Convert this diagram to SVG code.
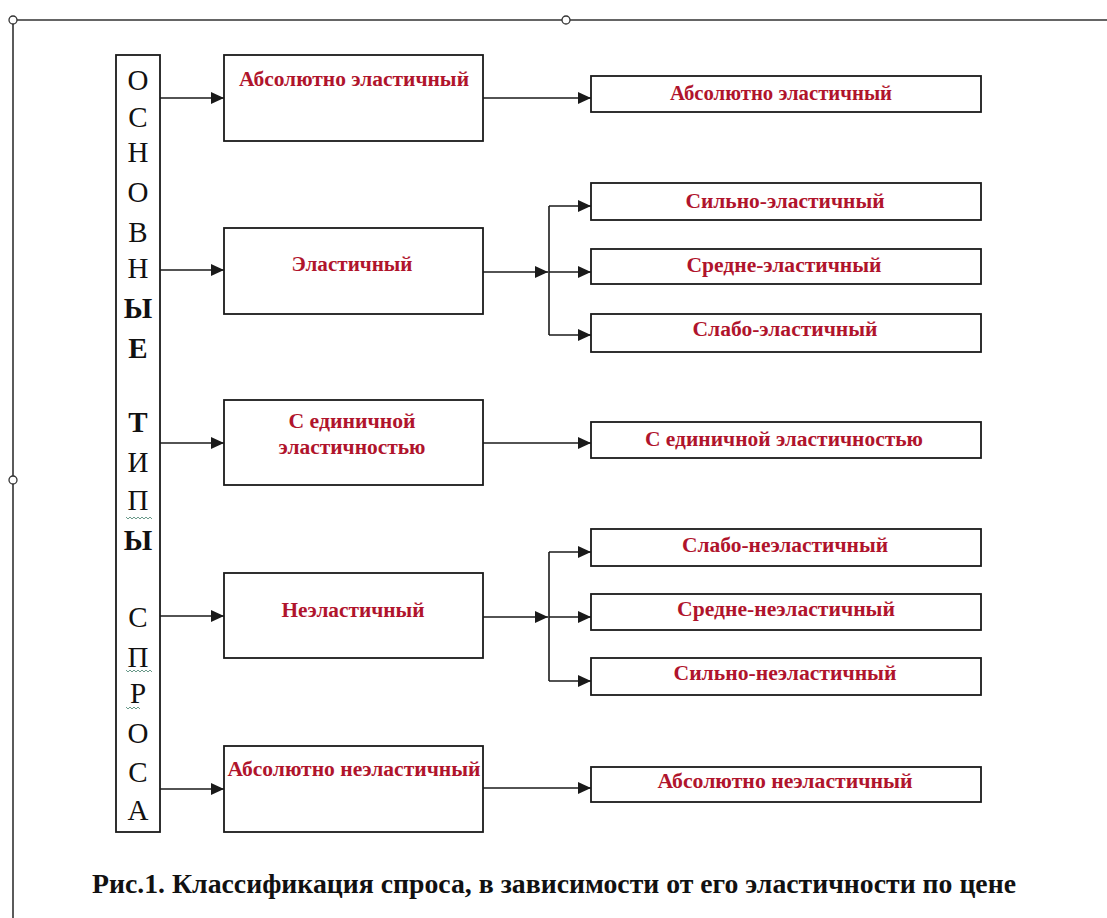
<svg xmlns="http://www.w3.org/2000/svg" width="1107" height="918" viewBox="0 0 1107 918">
<defs>
<style>
.box{fill:#fff;stroke:#1a1a1a;stroke-width:1.8}
.lbl{font-family:"Liberation Serif","Times New Roman",serif;font-weight:bold;font-size:20px;fill:#b0142c;text-anchor:middle}
.let{font-family:"Liberation Serif","Times New Roman",serif;font-size:29px;fill:#111;text-anchor:middle}
.b{font-weight:bold}
.con{fill:none;stroke:#1a1a1a;stroke-width:1.6}
.frame{fill:none;stroke:#333;stroke-width:1.6}
.handle{fill:#fff;stroke:#333;stroke-width:1.3}
.sq{fill:none;stroke:#6a9a8a;stroke-width:1}
.cap{font-family:"Liberation Serif","Times New Roman",serif;font-weight:bold;font-size:27px;fill:#111}
</style>
<marker id="ah" markerUnits="userSpaceOnUse" markerWidth="14" markerHeight="12" refX="13" refY="6" orient="auto">
<path d="M0,0 L13,6 L0,12 Z" fill="#1a1a1a"/>
</marker>
</defs>
<rect width="1107" height="918" fill="#fff"/>
<g id="frame">
<path class="frame" d="M13,20 H1107 M13,20 V918"/>
<circle class="handle" cx="13" cy="20" r="4"/>
<circle class="handle" cx="566" cy="20" r="4"/>
<circle class="handle" cx="13" cy="480" r="4"/>
</g>
<g id="connectors">
<path class="con" marker-end="url(#ah)" d="M160,98 H224"/>
<path class="con" marker-end="url(#ah)" d="M160,270 H224"/>
<path class="con" marker-end="url(#ah)" d="M160,443 H224"/>
<path class="con" marker-end="url(#ah)" d="M160,616 H224"/>
<path class="con" marker-end="url(#ah)" d="M160,789 H224"/>
<path class="con" marker-end="url(#ah)" d="M483,98 H591"/>
<path class="con" marker-end="url(#ah)" d="M483,443 H591"/>
<path class="con" marker-end="url(#ah)" d="M483,788 H591"/>
<path class="con" marker-end="url(#ah)" d="M483,272 H548"/>
<path class="con" d="M549,206 V335"/>
<path class="con" marker-end="url(#ah)" d="M549,206 H591"/>
<path class="con" marker-end="url(#ah)" d="M549,272 H591"/>
<path class="con" marker-end="url(#ah)" d="M549,335 H591"/>
<path class="con" marker-end="url(#ah)" d="M483,617 H548"/>
<path class="con" d="M549,552 V681"/>
<path class="con" marker-end="url(#ah)" d="M549,552 H591"/>
<path class="con" marker-end="url(#ah)" d="M549,617 H591"/>
<path class="con" marker-end="url(#ah)" d="M549,681 H591"/>
</g>
<g id="types">
<rect class="box" x="116" y="55" width="44" height="777"/>
<text class="let" x="138" y="90">О</text>
<text class="let" x="138" y="127">С</text>
<text class="let" x="138" y="162">Н</text>
<text class="let" x="138" y="202">О</text>
<text class="let" x="138" y="242">В</text>
<text class="let" x="138" y="278">Н</text>
<text class="let b" x="138" y="318">Ы</text>
<text class="let b" x="138" y="358">Е</text>
<text class="let b" x="138" y="432">Т</text>
<text class="let" x="138" y="472">И</text>
<text class="let" x="138" y="510">П</text>
<text class="let b" x="138" y="550">Ы</text>
<text class="let" x="138" y="627">С</text>
<text class="let" x="138" y="667">П</text>
<text class="let" x="138" y="703">Р</text>
<text class="let" x="138" y="743">О</text>
<text class="let" x="138" y="782">С</text>
<text class="let" x="138" y="820">А</text>
<path class="sq" d="M126,517 l2,2 l2,-2 l2,2 l2,-2 l2,2 l2,-2 l2,2 l2,-2 l2,2 l2,-2 l2,2 l2,-2 l2,2"/>
<path class="sq" d="M126,670 l2,2 l2,-2 l2,2 l2,-2 l2,2 l2,-2 l2,2 l2,-2 l2,2 l2,-2 l2,2 l2,-2 l2,2"/>
<path class="sq" d="M126,707 l2,2 l2,-2 l2,2 l2,-2 l2,2 l2,-2 l2,2"/>
</g>
<g id="n-abs-el">
<rect class="box" x="224" y="55" width="259" height="86"/>
<text class="lbl" x="354" y="86" textLength="230" lengthAdjust="spacingAndGlyphs">Абсолютно эластичный</text>
</g>
<g id="n-el">
<rect class="box" x="224" y="228" width="259" height="86"/>
<text class="lbl" x="352" y="271" textLength="121" lengthAdjust="spacingAndGlyphs">Эластичный</text>
</g>
<g id="n-unit">
<rect class="box" x="224" y="400" width="259" height="85"/>
<text class="lbl" x="352" y="428" textLength="127" lengthAdjust="spacingAndGlyphs">С единичной</text>
<text class="lbl" x="352" y="454" textLength="147" lengthAdjust="spacingAndGlyphs">эластичностью</text>
</g>
<g id="n-inel">
<rect class="box" x="224" y="573" width="259" height="85"/>
<text class="lbl" x="353" y="617" textLength="143" lengthAdjust="spacingAndGlyphs">Неэластичный</text>
</g>
<g id="n-abs-inel">
<rect class="box" x="224" y="746" width="259" height="86"/>
<text class="lbl" x="354" y="776" textLength="253" lengthAdjust="spacingAndGlyphs">Абсолютно неэластичный</text>
</g>
<g id="r-abs-el">
<rect class="box" x="591" y="76" width="390" height="36"/>
<text class="lbl" x="781" y="100" textLength="222" lengthAdjust="spacingAndGlyphs">Абсолютно эластичный</text>
</g>
<g id="r-strong-el">
<rect class="box" x="591" y="183" width="390" height="37"/>
<text class="lbl" x="785" y="208" textLength="199" lengthAdjust="spacingAndGlyphs">Сильно-эластичный</text>
</g>
<g id="r-mid-el">
<rect class="box" x="591" y="249" width="390" height="35"/>
<text class="lbl" x="784" y="272" textLength="195" lengthAdjust="spacingAndGlyphs">Средне-эластичный</text>
</g>
<g id="r-weak-el">
<rect class="box" x="591" y="314" width="390" height="38"/>
<text class="lbl" x="785" y="336" textLength="185" lengthAdjust="spacingAndGlyphs">Слабо-эластичный</text>
</g>
<g id="r-unit">
<rect class="box" x="591" y="422" width="390" height="36"/>
<text class="lbl" x="784" y="446" textLength="278" lengthAdjust="spacingAndGlyphs">С единичной эластичностью</text>
</g>
<g id="r-weak-inel">
<rect class="box" x="591" y="529" width="390" height="37"/>
<text class="lbl" x="785" y="552" textLength="206" lengthAdjust="spacingAndGlyphs">Слабо-неэластичный</text>
</g>
<g id="r-mid-inel">
<rect class="box" x="591" y="594" width="390" height="36"/>
<text class="lbl" x="786" y="616" textLength="218" lengthAdjust="spacingAndGlyphs">Средне-неэластичный</text>
</g>
<g id="r-strong-inel">
<rect class="box" x="591" y="658" width="390" height="37"/>
<text class="lbl" x="785" y="680" textLength="223" lengthAdjust="spacingAndGlyphs">Сильно-неэластичный</text>
</g>
<g id="r-abs-inel">
<rect class="box" x="591" y="767" width="390" height="35"/>
<text class="lbl" x="785" y="788" textLength="255" lengthAdjust="spacingAndGlyphs">Абсолютно неэластичный</text>
</g>
<g id="caption">
<text class="cap" x="92" y="893" textLength="924" lengthAdjust="spacingAndGlyphs">Рис.1. Классификация спроса, в зависимости от его эластичности по цене</text>
</g>
</svg>
